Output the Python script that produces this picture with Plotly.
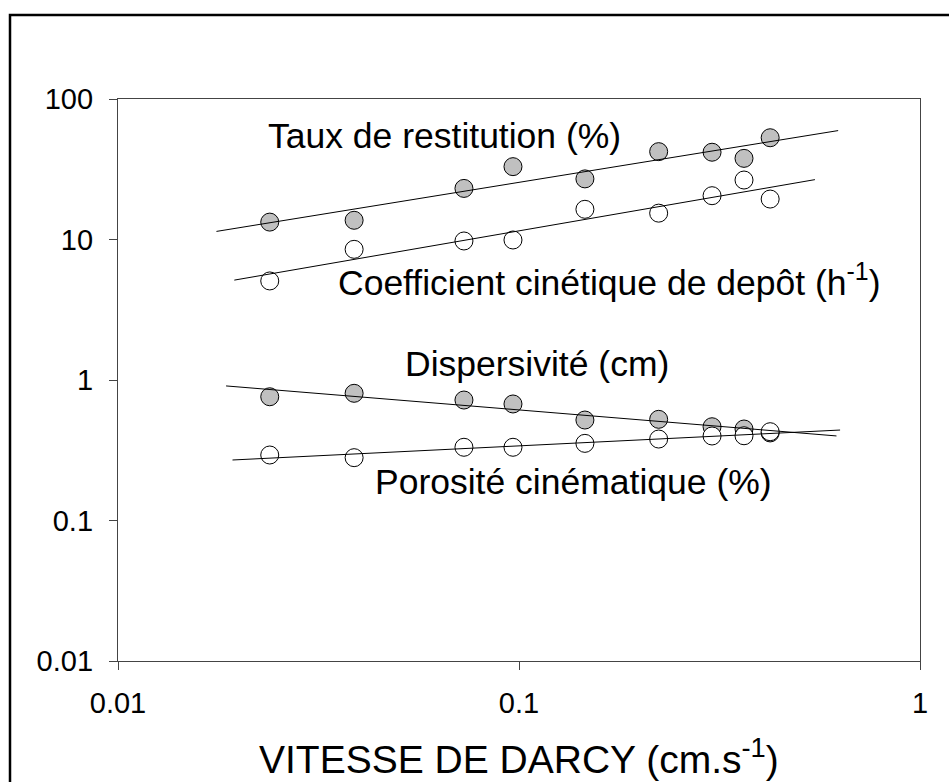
import numpy as np
import plotly.graph_objects as go

# Darcy velocity (cm/s) for each experiment
vitesse = [0.0239, 0.0388, 0.0729, 0.0966, 0.146, 0.223, 0.303, 0.364, 0.423]

# Measured quantities
taux_restitution = [13.3, 13.7, 23.1, 33.0, 27.0, 42.2, 41.8, 37.8, 53.0]
coef_depot = [5.07, 8.51, 9.76, 9.92, 16.4, 15.4, 20.5, 26.5, 19.4]
dispersivite = [0.760, 0.804, 0.720, 0.675, 0.519, 0.525, 0.465, 0.448, 0.420]
porosite = [0.2925, 0.280, 0.332, 0.332, 0.354, 0.380, 0.3995, 0.401, 0.4286]

# x-extent of each power-law trend line
trend_span_taux = [0.0176, 0.625]
trend_span_coef = [0.0195, 0.547]
trend_span_disp = [0.0186, 0.619]
trend_span_poro = [0.0193, 0.632]

x_ticks = [0.01, 0.1, 1]
x_ticktext = ["0.01", "0.1", "1"]
y_ticks = [0.01, 0.1, 1, 10, 100]
y_ticktext = ["0.01", "0.1", "1", "10", "100"]

FONT = "Liberation Sans, Arial, sans-serif"
W, H = 949, 782
ML, MR, MT, MB = 118, 29, 99, 121
PW, PH = W - ML - MR, H - MT - MB


def power_fit(x, y, span):
    """Least-squares fit of log(y) = a + b log(x), evaluated on the span."""
    lx, ly = np.log10(x), np.log10(y)
    b, a = np.polyfit(lx, ly, 1)
    xs = np.array(span)
    return xs, 10 ** (a + b * np.log10(xs))


fig = go.Figure()

marker_filled = dict(size=18, color="#C0C0C0", line=dict(color="black", width=1))
marker_open = dict(size=18, color="white", line=dict(color="black", width=1))

fig.add_trace(go.Scatter(x=vitesse, y=taux_restitution, mode="markers", marker=marker_filled))
fig.add_trace(go.Scatter(x=vitesse, y=coef_depot, mode="markers", marker=marker_open))
fig.add_trace(go.Scatter(x=vitesse, y=dispersivite, mode="markers", marker=marker_filled))
fig.add_trace(go.Scatter(x=vitesse, y=porosite, mode="markers", marker=marker_open))

for ys, span in [(taux_restitution, trend_span_taux), (coef_depot, trend_span_coef),
                 (dispersivite, trend_span_disp), (porosite, trend_span_poro)]:
    tx, ty = power_fit(vitesse, ys, span)
    fig.add_trace(go.Scatter(x=tx, y=ty, mode="lines", line=dict(color="black", width=1)))


def label(text, lx, ly):
    fig.add_annotation(x=lx, y=ly, xref="x", yref="y", text=text, showarrow=False,
                       xanchor="left", yanchor="middle",
                       font=dict(family=FONT, size=35.5, color="black"))


label("Taux de restitution (%)", -1.631, 1.740)
label("Coefficient cinétique de depôt (h<sup>-1</sup>)", -1.456, 0.705)
label("Dispersivité (cm)", -1.289, 0.114)
label("Porosité cinématique (%)", -1.364, -0.7224)

# Axis title below the x axis
fig.add_annotation(x=0.5, y=(H - MB - 756) / PH, xref="paper", yref="paper",
                   text="VITESSE DE DARCY (cm.s<sup>-1</sup>)", showarrow=False,
                   xanchor="center", yanchor="middle",
                   font=dict(family=FONT, size=39, color="black"))

# Outer frame around the figure
fig.add_shape(type="rect", xref="paper", yref="paper",
              x0=(10 - ML) / PW, x1=(975 - ML) / PW,
              y0=(H - MB - 820) / PH, y1=(H - MB - 15) / PH,
              line=dict(color="black", width=2.5), layer="below")

axis_common = dict(type="log", showgrid=False, zeroline=False, showline=True,
                   linecolor="#444444", linewidth=1.3, mirror=True,
                   ticks="outside", ticklen=8, tickcolor="#444444", tickwidth=1.3,
                   tickfont=dict(family=FONT, size=29, color="black"))

fig.update_xaxes(range=[-2, 0], tickvals=x_ticks, ticktext=x_ticktext,
                 ticklabelstandoff=8, **axis_common)
fig.update_yaxes(range=[-2, 2], tickvals=y_ticks, ticktext=y_ticktext,
                 ticklabelstandoff=10, **axis_common)

fig.update_layout(width=W, height=H, showlegend=False,
                  margin=dict(l=ML, r=MR, t=MT, b=MB, pad=0),
                  paper_bgcolor="white", plot_bgcolor="white",
                  font=dict(family=FONT, color="black"))

fig.write_html("out.html")
